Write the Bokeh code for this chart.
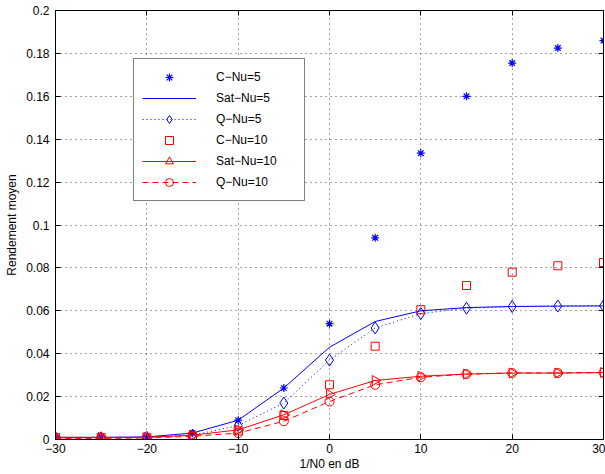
from bokeh.plotting import figure
from bokeh.models import (Range1d, FixedTicker, LinearAxis, CustomJSTickFormatter,
                          Legend, LegendItem)
from bokeh.embed import file_html
from bokeh.resources import INLINE
import math

snr = [-30, -25, -20, -15, -10, -5, 0, 5, 10, 15, 20, 25, 30]
c_nu5 = [0.001, 0.001, 0.001, 0.003, 0.009, 0.024, 0.054, 0.094, 0.1335, 0.160, 0.1755, 0.1825, 0.186]
sat_nu5 = [0.001, 0.001, 0.0012, 0.003, 0.009, 0.024, 0.043, 0.055, 0.060, 0.0615, 0.062, 0.0622, 0.0623]
q_nu5 = [0.0008, 0.0008, 0.001, 0.002, 0.0065, 0.017, 0.037, 0.052, 0.0587, 0.0612, 0.062, 0.0622, 0.0623]
c_nu10 = [0.001, 0.001, 0.001, 0.0015, 0.004, 0.0112, 0.0255, 0.0435, 0.0605, 0.0718, 0.078, 0.081, 0.0825]
sat_nu10 = [0.001, 0.001, 0.001, 0.002, 0.0045, 0.0115, 0.021, 0.0275, 0.0295, 0.0305, 0.031, 0.031, 0.0312]
q_nu10 = [0.0005, 0.0005, 0.0007, 0.0015, 0.003, 0.0085, 0.0177, 0.0255, 0.029, 0.0305, 0.031, 0.031, 0.0312]

x_ticks = [-30, -20, -10, 0, 10, 20, 30]
y_ticks = [0, 0.02, 0.04, 0.06, 0.08, 0.1, 0.12, 0.14, 0.16, 0.18, 0.2]

labels = ["C\u2212Nu=5", "Sat\u2212Nu=5", "Q\u2212Nu=5", "C\u2212Nu=10", "Sat\u2212Nu=10", "Q\u2212Nu=10"]

BLUE = "#0000ff"
RED = "#ff0000"
FONT = "Liberation Sans"

p = figure(width=605, height=474, output_backend="svg", toolbar_location=None,
           x_range=Range1d(-30, 30), y_range=Range1d(0, 0.2),
           min_border_left=55, min_border_right=2, min_border_top=10, min_border_bottom=35,
           x_axis_label="1/N0 en dB", y_axis_label="Rendement moyen")
p.outline_line_color = "black"
p.outline_line_width = 1
p.background_fill_color = "white"
p.border_fill_color = "white"

p.xaxis.ticker = FixedTicker(ticks=x_ticks)
p.yaxis.ticker = FixedTicker(ticks=y_ticks)
p.xaxis.formatter = CustomJSTickFormatter(code="return tick.toString().replace('-', '\u2212');")
p.yaxis.formatter = CustomJSTickFormatter(code="return Number(tick.toFixed(2)).toString();")

for ax in [p.xaxis[0], p.yaxis[0]]:
    ax.major_tick_in = 5
    ax.major_tick_out = 0
    ax.minor_tick_in = 0
    ax.minor_tick_out = 0
    ax.major_label_text_font = FONT
    ax.major_label_text_font_size = "12px"
    ax.major_label_text_color = "black"
    ax.axis_label_text_font = FONT
    ax.axis_label_text_font_size = "12px"
    ax.axis_label_text_font_style = "normal"
    ax.axis_label_text_color = "black"
    ax.axis_line_color = "black"
    ax.major_tick_line_color = "black"
p.xaxis.major_label_standoff = 4
p.xaxis.axis_label_standoff = 1
p.yaxis.major_label_standoff = 6
p.yaxis.axis_label_standoff = 4

for loc, tick in [("above", x_ticks), ("right", y_ticks)]:
    ax = LinearAxis(ticker=FixedTicker(ticks=tick))
    ax.major_tick_in = 5
    ax.major_tick_out = 0
    ax.minor_tick_in = 0
    ax.minor_tick_out = 0
    ax.major_label_text_font_size = "1px"
    ax.major_label_text_color = None
    ax.major_label_standoff = 0
    ax.axis_line_color = "black"
    ax.major_tick_line_color = "black"
    p.add_layout(ax, loc)

p.xgrid.ticker = FixedTicker(ticks=x_ticks)
p.ygrid.ticker = FixedTicker(ticks=y_ticks)
for g in [p.xgrid[0], p.ygrid[0]]:
    g.grid_line_color = "#444444"
    g.grid_line_dash = "1 4"
    g.grid_line_width = 1

r1 = p.scatter(snr, c_nu5, marker="asterisk", size=8, line_color=BLUE, line_width=1.2)
r2 = p.line(snr, sat_nu5, line_color=BLUE, line_width=1)
r3l = p.line(snr, q_nu5, line_color=BLUE, line_width=1, line_dash="1 3")
r3m = p.scatter(snr, q_nu5, marker="diamond", size=12, line_color=BLUE, fill_color=None, line_width=1)
r4 = p.scatter(snr, c_nu10, marker="square", size=8, line_color=RED, fill_color=None, line_width=1)
r5l = p.line(snr, sat_nu10, line_color=RED, line_width=1)
r5m = p.scatter(snr, sat_nu10, marker="triangle", size=10, angle=-math.pi / 2,
                line_color=RED, fill_color=None, line_width=1)
r6l = p.line(snr, q_nu10, line_color=RED, line_width=1, line_dash="6 4")
r6m = p.scatter(snr, q_nu10, marker="circle", size=9, line_color=RED, fill_color=None, line_width=1)

legend = Legend(items=[
    LegendItem(label=labels[0], renderers=[r1]),
    LegendItem(label=labels[1], renderers=[r2]),
    LegendItem(label=labels[2], renderers=[r3l, r3m]),
    LegendItem(label=labels[3], renderers=[r4]),
    LegendItem(label=labels[4], renderers=[r5l, r5m]),
    LegendItem(label=labels[5], renderers=[r6l, r6m]),
], location=(78, 238))
legend.label_text_font = FONT
legend.label_text_font_size = "12px"
legend.label_text_color = "black"
legend.border_line_color = "black"
legend.border_line_width = 1.5
legend.background_fill_color = "white"
legend.background_fill_alpha = 1
legend.padding = 8
legend.spacing = 1
legend.glyph_width = 54
legend.glyph_height = 20
legend.label_height = 20
legend.label_width = 80
legend.label_standoff = 20
legend.margin = 0
p.add_layout(legend, "center")

open("out.html", "w").write(file_html(p, INLINE))
